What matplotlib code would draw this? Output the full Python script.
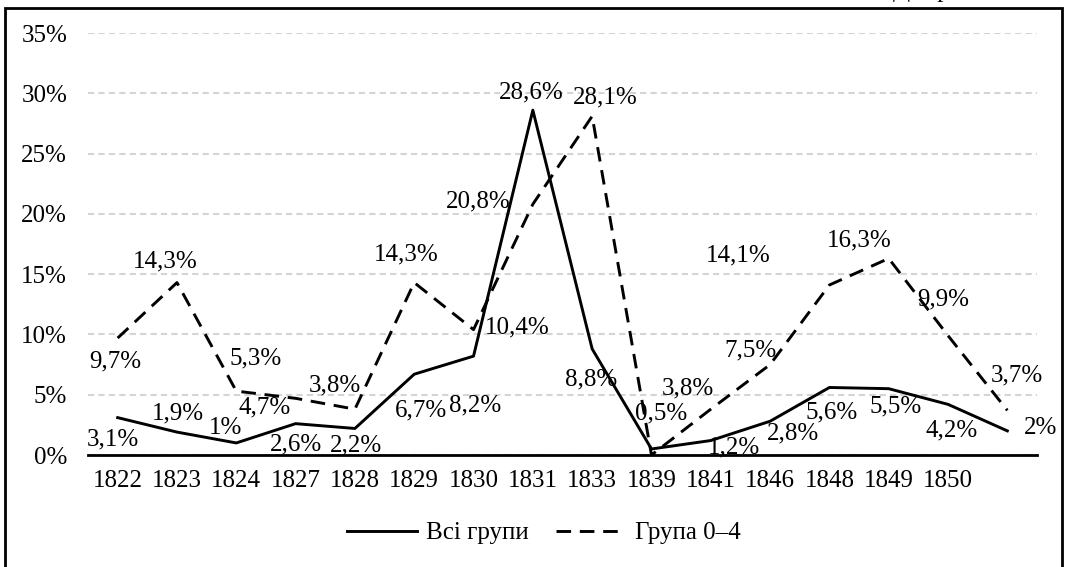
import matplotlib.pyplot as plt
from matplotlib.patches import Rectangle

plt.rcParams['font.family'] = ['Liberation Serif', 'DejaVu Serif']

# data
years = ['1822', '1823', '1824', '1827', '1828', '1829', '1830', '1831',
         '1833', '1839', '1841', '1846', '1848', '1849', '1850', '']
all_groups = [3.1, 1.9, 1.0, 2.6, 2.2, 6.7, 8.2, 28.6, 8.8, 0.5, 1.2, 2.8, 5.6, 5.5, 4.2, 2.0]
group_0_4 = [9.7, 14.3, 5.3, 4.7, 3.8, 14.3, 10.4, 20.8, 28.1, 0.0, 3.8, 7.5, 14.1, 16.3, 9.9, 3.7]
all_labels = ['3,1%', '1,9%', '1%', '2,6%', '2,2%', '6,7%', '8,2%', '28,6%', '8,8%',
              '0,5%', '1,2%', '2,8%', '5,6%', '5,5%', '4,2%', '2%']
grp_labels = ['9,7%', '14,3%', '5,3%', '4,7%', '3,8%', '14,3%', '10,4%', '20,8%', '28,1%',
              '', '3,8%', '7,5%', '14,1%', '16,3%', '9,9%', '3,7%']

# label offsets in pixels (dx right, dy up) from each point
all_off = [(-5, -22), (1, 19), (-11, 15), (0, -21), (1, -17), (7, -36), (2, -49), (-2, 18),
           (-1, -31), (10, 36), (23, -7), (23, -12), (2, -25), (7, -18), (4, -26), (33, 3)]
grp_off = [(-2, -23), (-12, 21), (19, 33), (-31, -9), (-20, 24), (-8, 28), (44, 2), (-55, 3),
           (13, 19), (0, 0), (-23, 21), (-20, 14), (-91, 30), (-29, 18), (-5, 36), (10, 35)]

FS = 18

fig = plt.figure(figsize=(10.67, 5.67), dpi=100)
ax = fig.add_axes([88 / 1067, 112 / 567, 949 / 1067, 422 / 567])

x = list(range(len(years)))
ax.plot(x, all_groups, color='black', lw=2.1, label='Всі групи')
ax.plot(x, group_0_4, color='black', lw=2.1, dashes=(5, 3), label='Група 0–4')

for xi, v, t, (dx, dy) in zip(x, all_groups, all_labels, all_off):
    ax.annotate(t, (xi, v), xytext=(dx * 0.72, dy * 0.72), textcoords='offset points',
                ha='center', va='center', fontsize=FS)
for xi, v, t, (dx, dy) in zip(x, group_0_4, grp_labels, grp_off):
    if t:
        ax.annotate(t, (xi, v), xytext=(dx * 0.72, dy * 0.72), textcoords='offset points',
                    ha='center', va='center', fontsize=FS)

ax.set_xlim(-0.5, len(years) - 0.5)
ax.set_ylim(0, 35)
ax.set_yticks(range(0, 36, 5))
ax.set_yticklabels([f'{v}%' for v in range(0, 36, 5)], fontsize=FS)
ax.set_xticks(x)
ax.set_xticklabels(years, fontsize=FS)
ax.tick_params(axis='both', length=0)
ax.tick_params(axis='y', pad=15)
ax.tick_params(axis='x', pad=11)
ax.grid(axis='y', color='#d4d4d4', lw=1.5, dashes=(3, 2))
ax.set_axisbelow(True)
for s in ['top', 'right', 'left']:
    ax.spines[s].set_visible(False)
ax.spines['bottom'].set_linewidth(2)
ax.spines['bottom'].set_zorder(3)

fig.legend(loc='center', bbox_to_anchor=(544 / 1067, 1 - 533 / 567), ncol=2, frameon=False,
           fontsize=FS, handlelength=2.8, columnspacing=1.1, handletextpad=0.35)

# outer frame and clipped text above it
fig.patches.append(Rectangle((5 / 1067, -0.05), 1057 / 1067, 1.05 - 8 / 567,
                             transform=fig.transFigure, fill=False, ec='black', lw=2))
fig.text(893 / 1067, 1 + 3 / 567, 'Джерело', fontsize=FS, va='baseline', ha='left')

fig.savefig('out.png', dpi=100)
